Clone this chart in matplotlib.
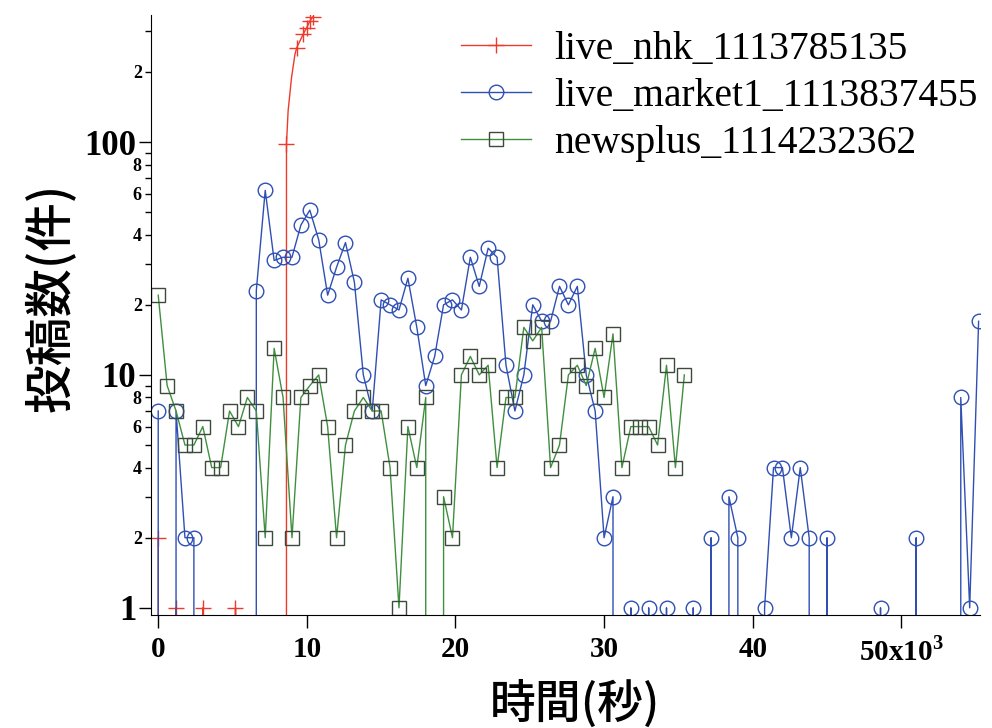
#!/usr/bin/env python3

import numpy as np
import matplotlib
matplotlib.use('Agg')
import matplotlib.pyplot as plt
from matplotlib.ticker import FixedLocator, FuncFormatter

###############################################
# time bins are 600 s wide, x axis in units of 10^3 s
step = 0.6

labels = ['live_nhk_1113785135', 'live_market1_1113837455', 'newsplus_1114232362']

# live_nhk has its own time base (thread filled up quickly)
nhk_x = [0.0, 0.6, 1.2, 1.8, 2.4, 3.0, 3.6, 4.6, 5.2, 5.8, 8.0,
         8.63, 8.74, 8.97, 9.2, 9.32, 9.75, 9.98, 10.2, 10.39]
nhk_y = [2, 0, 1, 0, 0, 1, 0, 0, 1, 0, 0,
         98, 136, 189, 238, 254, 290, 309, 330, 344]
nhk_marks = [0, 2, 5, 8, 11, 15, 16, 17, 18, 19]

market_y = [7, 0, 7, 2, 2, 0, 0, 0, 0, 0, 0,
            23, 62, 31, 32, 32, 44, 51, 38, 22, 29, 37, 25,
            10, 7, 21, 20, 19, 26, 16, 9, 12, 20, 21, 19, 32, 24, 35, 32, 11,
            7, 10, 20, 17, 17, 24, 20, 24, 10, 7, 2, 3,
            0, 1, 0, 1, 0, 1, 0, 0, 1, 0, 2, 0, 3, 2, 0, 0, 1, 4, 4, 2, 4, 2,
            0, 2, 0, 0, 0, 0, 0, 1, 0, 0, 0, 2, 0, 0, 0, 0, 8, 1, 17]

news_y = [22, 9, 7, 5, 5, 6, 4, 4, 7, 6, 8, 7, 2, 13, 8, 2, 8, 9, 10, 6, 2, 5, 7,
          8, 7, 7, 4, 1, 6, 4, 8,
          0, 3, 2, 10, 12, 10, 11, 4, 8, 8, 16, 14, 16, 4, 5,
          10, 11, 9, 13, 8, 15, 4, 6, 6, 6, 5, 11, 4, 10]

xticks = [0, 10, 20, 30, 40, 50]
xticklabels = ['0', '10', '20', '30', '40', '50x10$^{3}$']

###############################################

market_x = np.arange(len(market_y)) * step
news_x = np.arange(len(news_y)) * step

plt.rcParams['mathtext.fontset'] = 'custom'
plt.rcParams['mathtext.rm'] = 'Liberation Serif:bold'

fig = plt.figure(figsize=(9.92, 7.28), dpi=100)
ax = fig.add_axes([0.152, 0.155, 0.836, 0.824])

ax.plot(nhk_x, nhk_y, color='#ee3a2a', lw=1.0, marker='+', ms=12, mew=1.0,
        markevery=nhk_marks, label=labels[0])
ax.plot(market_x, market_y, color='#2f4fb4', lw=1.0, marker='o', ms=10.5,
        mfc='none', mew=1.0, label=labels[1])
ax.plot(news_x, news_y, color='#3f8f3f', lw=1.0, marker='s', ms=10,
        mfc='none', mec='#3c4a3c', mew=1.0, label=labels[2])

ax.set_yscale('log', nonpositive='clip')
ax.set_ylim(0.93, 350)
ax.set_xlim(-0.5, 55.3)

#removing top and right borders
ax.spines['top'].set_visible(False)
ax.spines['right'].set_visible(False)

ax.xaxis.set_major_locator(FixedLocator(xticks))
ax.set_xticklabels(xticklabels, family='Liberation Serif', weight='bold', fontsize=21)
ax.xaxis.set_minor_locator(FixedLocator([]))
ax.tick_params(axis='x', direction='out', length=9, width=1, pad=6)

ax.yaxis.set_major_locator(FixedLocator([1, 10, 100]))
ax.yaxis.set_minor_locator(FixedLocator([2, 3, 4, 5, 6, 7, 8, 9,
                                         20, 30, 40, 50, 60, 70, 80, 90, 200, 300]))
ax.yaxis.set_major_formatter(FuncFormatter(lambda v, p: '%d' % v))

def minorLabel(v, pos):
  d = int(round(v / 10 ** np.floor(np.log10(v) + 1e-9)))
  if d in (2, 4, 6, 8) and v < 250:
    return str(d)
  return ''

ax.yaxis.set_minor_formatter(FuncFormatter(minorLabel))
ax.tick_params(axis='y', which='major', direction='out', length=8.5, width=1, pad=2)
ax.tick_params(axis='y', which='minor', direction='out', length=4.5, width=1, pad=2)
for t in ax.get_yticklabels():
  t.set_family('Liberation Serif')
  t.set_weight('bold')
  t.set_fontsize(25)
for t in ax.get_yticklabels(minor=True):
  t.set_family('Liberation Serif')
  t.set_weight('bold')
  t.set_fontsize(13)

ax.set_xlabel('時間(秒)', family=['Noto Sans CJK JP', 'DejaVu Sans'], fontsize=33,
              weight='medium')
ax.set_ylabel('投稿数(件)', family=['Noto Sans CJK JP', 'DejaVu Sans'], fontsize=35,
              weight='medium')
ax.xaxis.set_label_coords(0.511, -0.108)
ax.yaxis.set_label_coords(-0.09, 0.53)

leg = ax.legend(loc='upper right', bbox_to_anchor=(1.013, 0.995), bbox_transform=fig.transFigure,
                frameon=False, prop={'family': 'Liberation Serif', 'size': 28.5},
                handlelength=1.77, handletextpad=0.58, labelspacing=0.25, borderpad=0.2)

plt.savefig('out.png', dpi=100)
